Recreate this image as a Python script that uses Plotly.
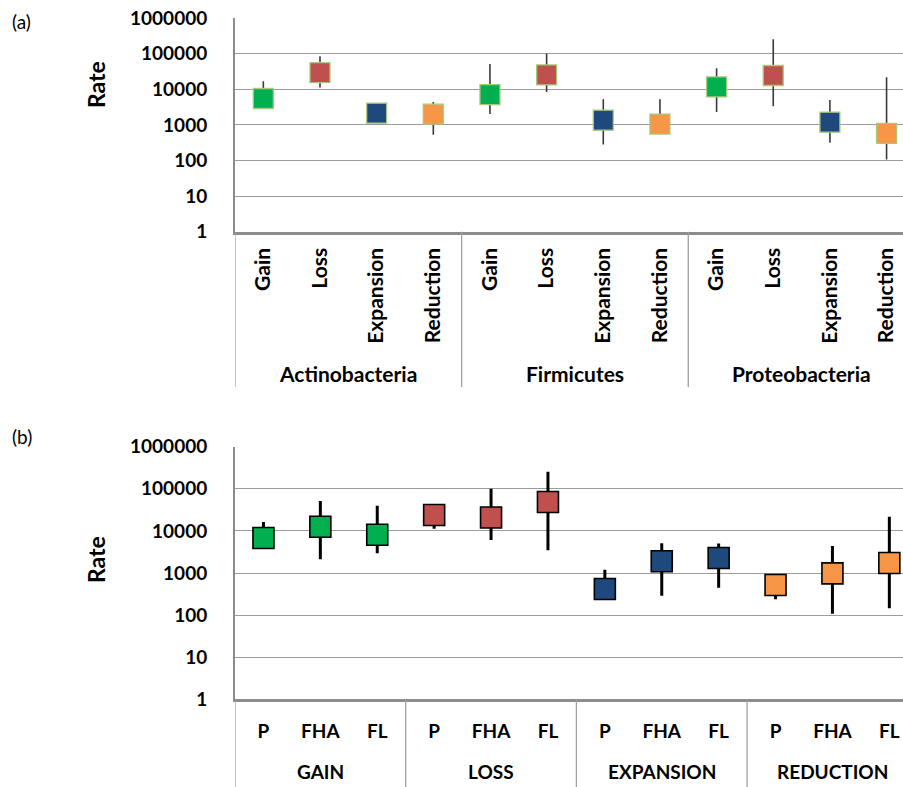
import plotly.graph_objects as go

# ---- Panel (a): rates per phylum ----
phyla = ["Actinobacteria", "Firmicutes", "Proteobacteria"]
events = ["Gain", "Loss", "Expansion", "Reduction"]
a_value = [5500, 29300, 2130, 2000,
           7100, 25300, 1350, 1050,
           11600, 24300, 1190, 573]
a_low = [4000, 11200, 1600, 525,
         2030, 8300, 282, 800,
         2310, 3340, 313, 107]
a_high = [16800, 84000, 2800, 4400,
          51000, 100000, 5250, 5250,
          38700, 253000, 5000, 21700]

# ---- Panel (b): rates per event type and genome class ----
event_groups = ["GAIN", "LOSS", "EXPANSION", "REDUCTION"]
classes = ["P", "FHA", "FL"]
b_value = [6800, 12500, 8100,
           23900, 20800, 48600,
           417, 1900, 2270,
           519, 980, 1730]
b_low = [5000, 2120, 2940,
         11300, 6080, 3460,
         350, 289, 447,
         237, 108, 145]
b_high = [16300, 51000, 39600,
          35000, 100000, 255000,
          1200, 5070, 5000,
          800, 4370, 21800]

event_colors = {"Gain": "#00B050", "Loss": "#C0504D",
                "Expansion": "#1F497D", "Reduction": "#F79646"}

y_ticks = [1, 10, 100, 1000, 10000, 100000, 1000000]
FONT = "Lato"


def bold(size):
    return dict(family=FONT, size=size, color="black", weight="bold")


fig = go.Figure()


def whiskers(xs, lows, highs):
    px, py = [], []
    for x, lo, hi in zip(xs, lows, highs):
        px += [x, x, None]
        py += [lo, hi, None]
    return px, py


# panel (a)
a_labels = [e for _ in phyla for e in events]
a_x = list(range(len(a_labels)))
wx, wy = whiskers(a_x, a_low, a_high)
fig.add_trace(go.Scatter(x=wx, y=wy, mode="lines", xaxis="x", yaxis="y",
                         line=dict(color="#3a3a3a", width=1.6),
                         hoverinfo="skip", showlegend=False))
fig.add_trace(go.Scatter(
    x=a_x, y=a_value, mode="markers", xaxis="x", yaxis="y", showlegend=False,
    marker=dict(symbol="square", size=20,
                color=[event_colors[e] for e in a_labels],
                line=dict(color="#A9C97A", width=1.3))))

# panel (b)
b_labels = [c for _ in event_groups for c in classes]
b_x = list(range(len(b_labels)))
b_colors = [event_colors[events[i // len(classes)]] for i in b_x]
wx, wy = whiskers(b_x, b_low, b_high)
fig.add_trace(go.Scatter(x=wx, y=wy, mode="lines", xaxis="x2", yaxis="y2",
                         line=dict(color="black", width=3),
                         hoverinfo="skip", showlegend=False))
fig.add_trace(go.Scatter(
    x=b_x, y=b_value, mode="markers", xaxis="x2", yaxis="y2", showlegend=False,
    marker=dict(symbol="square", size=21, color=b_colors,
                line=dict(color="black", width=1.6))))

W, H = 903, 787
x_left = 235 / W
ya_dom = [1 - 231.7 / H, 1 - 18 / H]
yb_dom = [1 - 699.3 / H, 1 - 446.7 / H]

yaxis_common = dict(
    type="log", range=[0, 6], tickvals=y_ticks,
    ticktext=[str(v) for v in y_ticks],
    tickfont=bold(19),
    showgrid=True, gridcolor="#9C9C9C", gridwidth=1.3,
    showline=True, linecolor="#8C8C8C", linewidth=2,
    ticks="", ticklabelstandoff=22, zeroline=False, fixedrange=True,
    automargin=False,
)
xaxis_common = dict(
    showgrid=False, zeroline=False, showline=True,
    linecolor="#8C8C8C", linewidth=2.5, ticks="", fixedrange=True,
    automargin=False,
)

fig.update_layout(
    width=W, height=H, margin=dict(l=0, r=0, t=0, b=0, autoexpand=False),
    paper_bgcolor="white", plot_bgcolor="white",
    xaxis=dict(xaxis_common, domain=[x_left, 1], anchor="y",
               range=[-0.5, 11.29], tickvals=a_x, ticktext=a_labels,
               tickangle=-90, ticklabelstandoff=5, tickfont=bold(21)),
    yaxis=dict(yaxis_common, domain=ya_dom, anchor="x"),
    xaxis2=dict(xaxis_common, domain=[x_left, 1], anchor="y2",
                range=[-0.5, 11.24], tickvals=b_x, ticktext=b_labels,
                tickangle=0, ticklabelstandoff=13, tickfont=bold(19)),
    yaxis2=dict(yaxis_common, domain=yb_dom, anchor="x2"),
)

shapes = []
annotations = []
# group separators and group names, panel (a)
for g in range(len(phyla) + 1):
    xs = g * len(events) - 0.5
    shapes.append(dict(type="line", xref="x", yref="paper", x0=xs, x1=xs,
                       y0=ya_dom[0], y1=1 - 387 / H,
                       line=dict(color="#A0A0A0", width=1.3)))
for g, name in enumerate(phyla):
    annotations.append(dict(
        x=g * len(events) + (len(events) - 1) / 2, y=1 - 373 / H,
        xref="x", yref="paper", text=name, showarrow=False,
        font=bold(21), xanchor="center", yanchor="middle"))
# group separators and group names, panel (b)
for g in range(len(event_groups) + 1):
    xs = g * len(classes) - 0.5
    shapes.append(dict(type="line", xref="x2", yref="paper", x0=xs, x1=xs,
                       y0=yb_dom[0], y1=0,
                       line=dict(color="#A0A0A0", width=1.3)))
for g, name in enumerate(event_groups):
    annotations.append(dict(
        x=g * len(classes) + (len(classes) - 1) / 2, y=1 - 771 / H,
        xref="x2", yref="paper", text=name, showarrow=False,
        font=bold(19), xanchor="center", yanchor="middle"))

# axis titles and panel letters
for yc, letter, ly in [(85, "(a)", 22), (560, "(b)", 436)]:
    annotations.append(dict(
        x=96 / W, y=1 - yc / H, xref="paper", yref="paper", text="Rate",
        textangle=-90, showarrow=False, font=bold(23),
        xanchor="center", yanchor="middle"))
    annotations.append(dict(
        x=10 / W, y=1 - ly / H, xref="paper", yref="paper", text=letter,
        showarrow=False, font=dict(family=FONT, size=19, color="black"),
        xanchor="left", yanchor="middle"))

fig.update_layout(shapes=shapes, annotations=annotations)
fig.write_html("out.html")
